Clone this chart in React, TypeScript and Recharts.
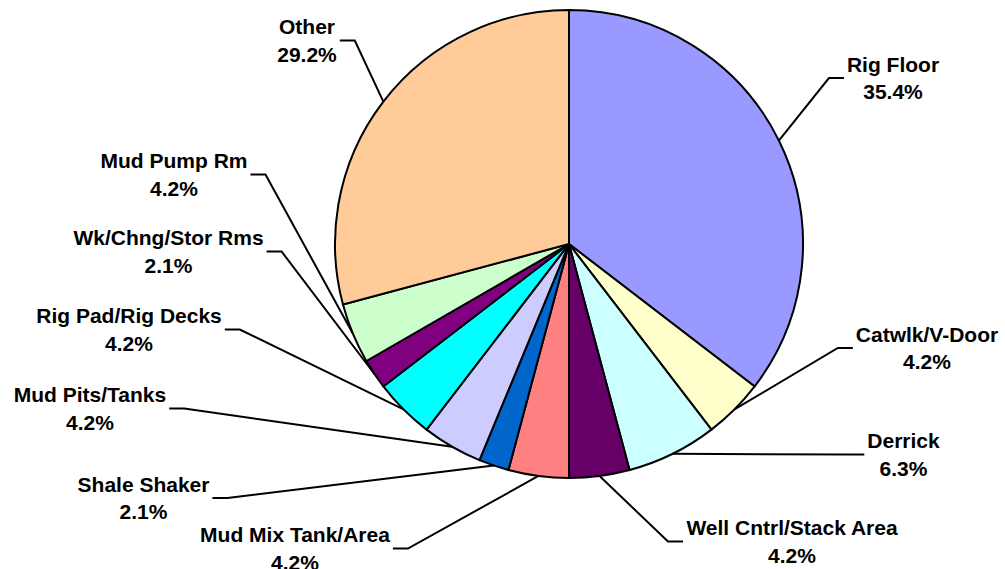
import { PieChart, Pie, Cell } from "recharts"

const categories = [
  "Rig Floor",
  "Catwlk/V-Door",
  "Derrick",
  "Well Cntrl/Stack Area",
  "Mud Mix Tank/Area",
  "Shale Shaker",
  "Mud Pits/Tanks",
  "Rig Pad/Rig Decks",
  "Wk/Chng/Stor Rms",
  "Mud Pump Rm",
  "Other",
]
const counts = [17, 2, 3, 2, 2, 1, 2, 2, 1, 2, 14]
const colors = [
  "#9999FF",
  "#FFFFCC",
  "#CCFFFF",
  "#660066",
  "#FF8080",
  "#0066CC",
  "#CCCCFF",
  "#00FFFF",
  "#800080",
  "#CCFFCC",
  "#FFCC99",
]

// label placement, relative to the pie centre: [dx to text centre, dy to first baseline]
const labelOffsets: [number, number][] = [
  [324, -172.5],
  [358, 97.5],
  [334.5, 204],
  [223, 291],
  [-274, 298],
  [-425.5, 247.5],
  [-479, 158],
  [-440, 79],
  [-400.5, 1],
  [-395, -76],
  [-262, -210],
]

const W = 1005
const H = 569
const FONT = 21
const LINE_GAP = 27.5
const FONT_FAMILY = '"Liberation Sans", Arial, sans-serif'
const RAD = Math.PI / 180

const total = counts.reduce((a, b) => a + b, 0)
const data = categories.map((name, i) => ({ name, value: counts[i] }))

let ctx: CanvasRenderingContext2D | null = null
function textWidth(s: string) {
  if (!ctx) ctx = document.createElement("canvas").getContext("2d")
  if (!ctx) return s.length * FONT * 0.6
  ctx.font = `bold ${FONT}px ${FONT_FAMILY}`
  return ctx.measureText(s).width
}

function renderLabel(props: any) {
  const { cx, cy, midAngle, outerRadius, index, value } = props
  const [dx, dy] = labelOffsets[index]
  const tx = cx + dx
  const base = cy + dy
  const pct = `${((value / total) * 100).toFixed(1)}%`
  const half = Math.max(textWidth(categories[index]), textWidth(pct)) / 2
  const px = cx + outerRadius * Math.cos(-midAngle * RAD)
  const py = cy + outerRadius * Math.sin(-midAngle * RAD)
  const ly = base + 6.5
  const left = tx < cx
  const x1 = left ? tx + half + 3 : tx - half - 3
  const x2 = left ? x1 + 15 : x1 - 15
  const textProps = {
    textAnchor: "middle" as const,
    fontFamily: FONT_FAMILY,
    fontWeight: "bold",
    fontSize: FONT,
    fill: "#000",
  }
  return (
    <g key={`lbl-${index}`}>
      <polyline
        points={`${x1},${ly} ${x2},${ly} ${px},${py}`}
        fill="none"
        stroke="#000"
        strokeWidth={2}
      />
      <text x={tx} y={base} {...textProps}>
        {categories[index]}
      </text>
      <text x={tx} y={base + LINE_GAP} {...textProps}>
        {pct}
      </text>
    </g>
  )
}

export default function App() {
  return (
    <div style={{ position: "absolute", left: 0, top: 0, width: W, height: H, background: "#fff" }}>
      <PieChart width={W} height={H} margin={{ top: 0, right: 0, bottom: 0, left: 0 }}>
        <Pie
          data={data}
          dataKey="value"
          nameKey="name"
          cx={569}
          cy={244}
          outerRadius={234}
          startAngle={90}
          endAngle={-270}
          stroke="#000"
          strokeWidth={2}
          label={renderLabel}
          labelLine={false}
          isAnimationActive={false}
        >
          {data.map((d, i) => (
            <Cell key={d.name} fill={colors[i]} />
          ))}
        </Pie>
      </PieChart>
    </div>
  )
}
